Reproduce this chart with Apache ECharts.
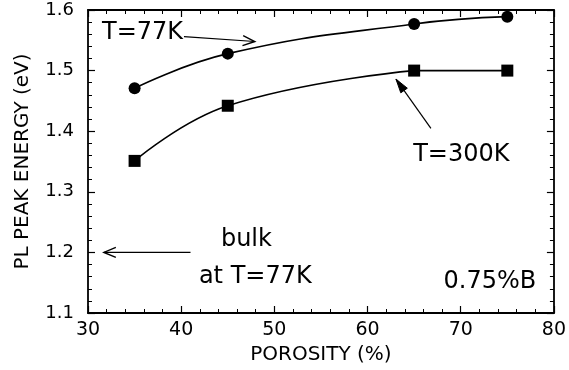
<!DOCTYPE html>
<html>
<head>
<meta charset="utf-8">
<script src="https://cdn.jsdelivr.net/npm/echarts@6/dist/echarts.min.js"></script>
<style>
  html, body { margin: 0; padding: 0; background: #fff; }
  #chart { width: 569px; height: 370px; }
</style>
</head>
<body>
<div id="chart"></div>
<script>
// porosity (%) of the samples
const porosity = [35, 45, 65, 75]
// PL peak energy (eV)
const energy77K = [1.471, 1.528, 1.577, 1.589]
const energy300K = [1.351, 1.442, 1.50, 1.50]

const xRange = [30, 80]
const yRange = [1.1, 1.6]

// annotations, in data units
const labels = [
  { text: 'T=77K', at: [31.5, 1.5625], align: 'left' },
  { text: 'T=300K', at: [64.9, 1.3606], align: 'left' },
  { text: 'bulk', at: [47.0, 1.2205], align: 'center' },
  { text: 'at T=77K', at: [41.9, 1.160], align: 'left' },
  { text: '0.75%B', at: [78.1, 1.152], align: 'right' }
]
const arrows = [
  { from: [40.3, 1.556], to: [47.9, 1.548], filled: false },
  { from: [66.8, 1.4046], to: [63.05, 1.486], filled: true },
  { from: [41.0, 1.2], to: [31.7, 1.2], filled: false }
]

const FONT = 'DejaVu Sans'
const pts = (ys, from, to) => porosity.slice(from, to).map((x, i) => [x, ys[from + i]])

const axisBase = {
  type: 'value',
  axisLine: { show: true, lineStyle: { color: '#000', width: 1.8 } },
  axisTick: { show: true, inside: true, length: 7, lineStyle: { color: '#000', width: 1.2 } },
  minorTick: { show: true, splitNumber: 5, length: 4, lineStyle: { color: '#000', width: 1 } },
  splitLine: { show: false }
}

const chart = echarts.init(document.getElementById('chart'))

chart.setOption({
  backgroundColor: '#fff',
  animation: false,
  grid: { left: 88, right: 13, top: 10, bottom: 53 },
  xAxis: [
    {
      ...axisBase,
      position: 'bottom',
      min: xRange[0], max: xRange[1], interval: 10,
      axisLabel: { color: '#000', fontFamily: FONT, fontSize: 19, margin: 8 },
      name: 'POROSITY (%)',
      nameLocation: 'middle',
      nameGap: 32,
      nameTextStyle: { color: '#000', fontFamily: FONT, fontSize: 20 }
    },
    {
      ...axisBase,
      position: 'top',
      min: xRange[0], max: xRange[1], interval: 10,
      axisLabel: { show: false }
    }
  ],
  yAxis: [
    {
      ...axisBase,
      position: 'left',
      min: yRange[0], max: yRange[1], interval: 0.1,
      axisLabel: { color: '#000', fontFamily: FONT, fontSize: 18, margin: 14, formatter: v => v.toFixed(1) },
      name: 'PL PEAK ENERGY (eV)',
      nameLocation: 'middle',
      nameGap: 55,
      nameTextStyle: { color: '#000', fontFamily: FONT, fontSize: 20 }
    },
    {
      ...axisBase,
      position: 'right',
      min: yRange[0], max: yRange[1], interval: 0.1,
      axisLabel: { show: false }
    }
  ],
  series: [
    {
      name: 'T=77K',
      type: 'line',
      smooth: 0.45,
      data: pts(energy77K, 0, 4),
      symbol: 'circle',
      symbolSize: 12,
      itemStyle: { color: '#000', opacity: 1 },
      lineStyle: { color: '#000', width: 1.6 }
    },
    {
      name: 'T=300K fit',
      type: 'line',
      smooth: 0.45,
      data: pts(energy300K, 0, 3),
      showSymbol: false,
      lineStyle: { color: '#000', width: 1.6 }
    },
    {
      name: 'T=300K flat',
      type: 'line',
      data: pts(energy300K, 2, 4),
      showSymbol: false,
      lineStyle: { color: '#000', width: 1.6 }
    },
    {
      name: 'T=300K',
      type: 'scatter',
      data: pts(energy300K, 0, 4),
      symbol: 'rect',
      symbolSize: 12,
      itemStyle: { color: '#000', opacity: 1 }
    }
  ]
})

// annotations drawn after layout so they follow the axes
const toPx = p => chart.convertToPixel({ gridIndex: 0 }, p)

function arrowHead(tip, from, len, half) {
  const dx = tip[0] - from[0], dy = tip[1] - from[1]
  const d = Math.hypot(dx, dy)
  const ux = dx / d, uy = dy / d
  const bx = tip[0] - ux * len, by = tip[1] - uy * len
  return [[bx - uy * half, by + ux * half], tip, [bx + uy * half, by - ux * half]]
}

const graphic = []
labels.forEach(l => {
  const p = toPx(l.at)
  graphic.push({
    type: 'text', x: p[0], y: p[1], z: 10,
    style: { text: l.text, fill: '#000', font: `24px "${FONT}"`, align: l.align, verticalAlign: 'middle' }
  })
})
arrows.forEach(a => {
  const s = toPx(a.from), e = toPx(a.to)
  graphic.push({
    type: 'line', z: 10,
    shape: { x1: s[0], y1: s[1], x2: e[0], y2: e[1] },
    style: { stroke: '#000', lineWidth: 1.2 }
  })
  const head = arrowHead(e, s, a.filled ? 14 : 12, a.filled ? 4 : 5)
  graphic.push(a.filled
    ? { type: 'polygon', z: 10, shape: { points: head }, style: { fill: '#000', stroke: '#000', lineWidth: 1 } }
    : { type: 'polyline', z: 10, shape: { points: head }, style: { stroke: '#000', lineWidth: 1.4, fill: null } })
})
chart.setOption({ graphic })
</script>
</body>
</html>
